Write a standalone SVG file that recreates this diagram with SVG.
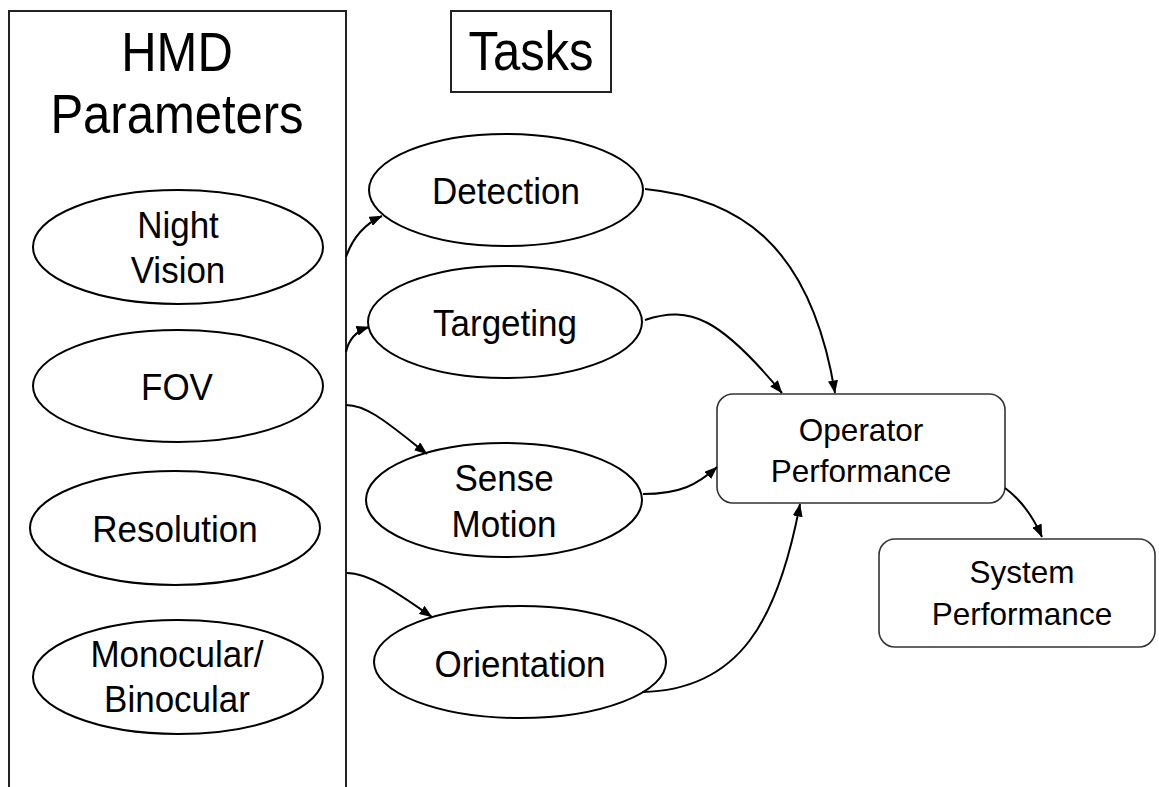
<svg xmlns="http://www.w3.org/2000/svg" width="1159" height="787" viewBox="0 0 1159 787">
<defs>
<style>
.bg{fill:#ffffff}
.ell{fill:#ffffff;stroke:#000;stroke-width:2}
.box{fill:#ffffff;stroke:#333;stroke-width:1.6}
.panel{fill:none;stroke:#222;stroke-width:2}
.t{font-family:"Liberation Sans",Arial,sans-serif;fill:#000;text-anchor:middle}
.big{font-size:49px}
.mid{font-size:35px}
.sm{font-size:31.5px}
.conn{fill:none;stroke:#000;stroke-width:2}
</style>
<marker id="arr" viewBox="0 0 13 10" refX="12.5" refY="5" markerWidth="13" markerHeight="10" markerUnits="userSpaceOnUse" orient="auto">
<path d="M0,0 L13,5 L0,10 z" fill="#000"/>
</marker>
</defs>
<rect class="bg" x="0" y="0" width="1159" height="787"/>

<g id="hmd-panel">
<path class="panel" d="M9,790 L9,11 L346,11 L346,790"/>
<text class="t big" transform="translate(177,71) scale(1,1.13)">HMD</text>
<text class="t big" transform="translate(177,133) scale(1,1.13)">Parameters</text>
</g>

<g id="tasks-label">
<rect class="panel" x="451" y="11" width="160" height="81"/>
<text class="t big" transform="translate(531,70) scale(1,1.13)">Tasks</text>
</g>

<g id="night-vision">
<ellipse class="ell" cx="178" cy="247" rx="145" ry="57"/>
<text class="t mid" transform="translate(178,238) scale(1,1.07)">Night</text>
<text class="t mid" transform="translate(178,283) scale(1,1.07)">Vision</text>
</g>

<g id="fov">
<ellipse class="ell" cx="178" cy="386" rx="145" ry="56"/>
<text class="t mid" transform="translate(177,400) scale(1,1.07)">FOV</text>
</g>

<g id="resolution">
<ellipse class="ell" cx="175" cy="528" rx="145" ry="57"/>
<text class="t mid" transform="translate(175,542) scale(1,1.07)">Resolution</text>
</g>

<g id="monocular-binocular">
<ellipse class="ell" cx="178" cy="677" rx="145" ry="57"/>
<text class="t mid" transform="translate(177,667) scale(1,1.07)">Monocular/</text>
<text class="t mid" transform="translate(177,712) scale(1,1.07)">Binocular</text>
</g>

<g id="detection">
<ellipse class="ell" cx="506" cy="190" rx="137" ry="56"/>
<text class="t mid" transform="translate(506,204) scale(1,1.07)">Detection</text>
</g>

<g id="targeting">
<ellipse class="ell" cx="505" cy="322" rx="137" ry="56"/>
<text class="t mid" transform="translate(505,336) scale(1,1.07)">Targeting</text>
</g>

<g id="sense-motion">
<ellipse class="ell" cx="504" cy="500" rx="138" ry="57"/>
<text class="t mid" transform="translate(504,491) scale(1,1.07)">Sense</text>
<text class="t mid" transform="translate(504,537) scale(1,1.07)">Motion</text>
</g>

<g id="orientation">
<ellipse class="ell" cx="520" cy="662" rx="146" ry="56"/>
<text class="t mid" transform="translate(520,677) scale(1,1.07)">Orientation</text>
</g>

<g id="operator-performance">
<rect class="box" x="717" y="394" width="288" height="109" rx="16" ry="16"/>
<text class="t sm" x="861" y="441">Operator</text>
<text class="t sm" x="861" y="482">Performance</text>
</g>

<g id="system-performance">
<rect class="box" x="879" y="539" width="276" height="108" rx="16" ry="16"/>
<text class="t sm" x="1022" y="583">System</text>
<text class="t sm" x="1022" y="625">Performance</text>
</g>

<g id="connectors">
<path class="conn" marker-end="url(#arr)" d="M346,257 Q356,228 382,216"/>
<path class="conn" marker-end="url(#arr)" d="M346,352 Q350,333 369,327"/>
<path class="conn" marker-end="url(#arr)" d="M346,405 C368,405 390,425 427,454"/>
<path class="conn" marker-end="url(#arr)" d="M347,573 C370,573 400,595 432,617"/>
<path class="conn" marker-end="url(#arr)" d="M645,189 C735,198 810,240 835,393"/>
<path class="conn" marker-end="url(#arr)" d="M645,320 C690,305 720,318 782,393"/>
<path class="conn" marker-end="url(#arr)" d="M643,494 C680,494 697,485 717,467"/>
<path class="conn" marker-end="url(#arr)" d="M642,692 C740,690 778,620 800,504"/>
<path class="conn" marker-end="url(#arr)" d="M1005,488 Q1028,505 1042,537"/>
</g>
</svg>
